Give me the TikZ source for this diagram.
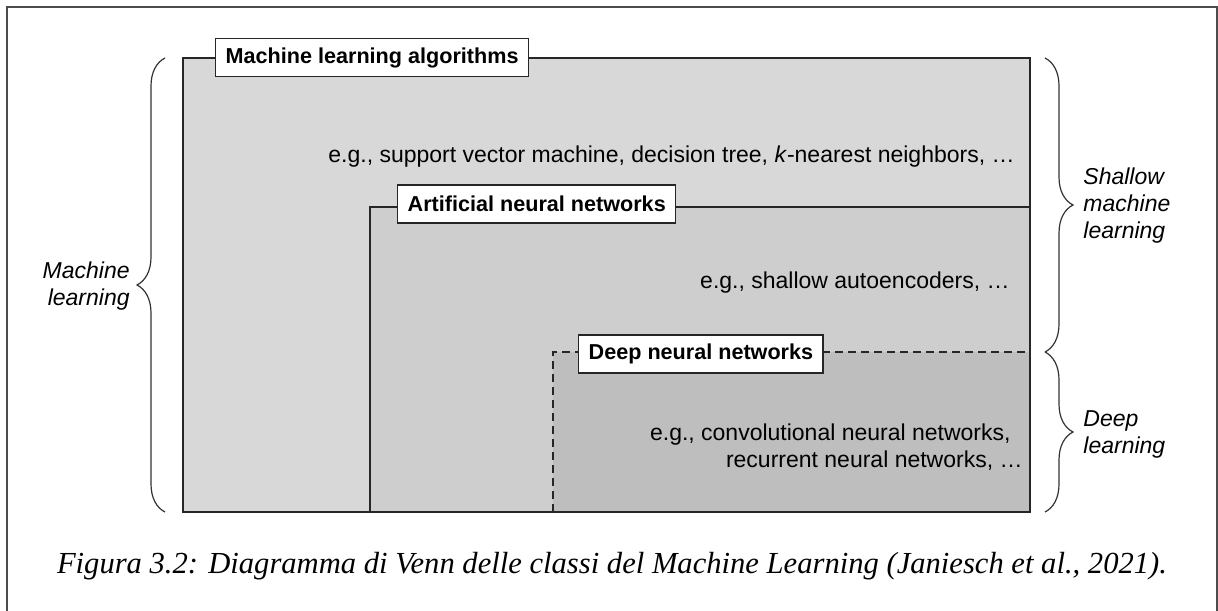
\documentclass[tikz,border=0pt]{standalone}
\usepackage{fontspec}
\setmainfont{Liberation Serif}
\setsansfont{Liberation Sans}
\usepackage{tikz}
\usetikzlibrary{decorations.pathreplacing}

\definecolor{mlgray}{RGB}{216,216,216}
\definecolor{anngray}{RGB}{206,206,206}
\definecolor{dnngray}{RGB}{190,190,190}

\begin{document}
\begin{tikzpicture}[
  x=0.5pt, y=-0.5pt,
  tag/.style={rectangle,draw=black!85,fill=white,line width=0.7pt,inner xsep=5pt,inner ysep=0pt,minimum height=19pt,anchor=west,font=\sffamily\bfseries\fontsize{10.8}{12}\selectfont},
  example/.style={align=right,anchor=east,inner sep=0pt,font=\sffamily\fontsize{11.5}{13.5}\selectfont},
  side/.style={inner sep=0pt,font=\sffamily\itshape\fontsize{11.5}{13.5}\selectfont},
  brace/.style={decorate,decoration={brace,amplitude=14pt},line width=0.6pt,draw=black!80},
  edge/.style={line width=0.7pt,draw=black!85}
]
  \useasboundingbox (0,0) rectangle (1218,610);
  \draw[black!70,line width=0.7pt] (7,612) -- (7,7) -- (1217,7) -- (1217,612);

  % nested areas
  \coordinate (mlnw) at (183,58);
  \coordinate (annnw) at (370,207);
  \coordinate (dnnnw) at (553,352);
  \coordinate (se) at (1030,512);

  \fill[mlgray] (mlnw) rectangle (se);
  \fill[anngray] (annnw) rectangle (se);
  \fill[dnngray] (dnnnw) rectangle (se);
  \draw[edge] (mlnw) rectangle (se);
  \draw[edge] (annnw |- se) -- (annnw) -- (se |- annnw);
  \draw[edge,dashed,dash pattern=on 4pt off 2.5pt] (dnnnw |- se) -- (dnnnw) -- (se |- dnnnw);

  \node[tag] (mlalg) at (215,57.5) {Machine learning algorithms};
  \node[tag] (ann) at (397,204) {Artificial neural networks};
  \node[tag] (dnn) at (578,354) {Deep neural networks};

  \node[example] (mlex) at (1015,157) {e.g., support vector machine, decision tree, \textit{k}-nearest neighbors, …};
  \node[example] (annex) at (1010,283) {e.g., shallow autoencoders, …};
  \node[example] (dnnex) at (1023,447) {e.g., convolutional neural networks,\hspace*{6pt}\\recurrent neural networks, …};

  % braces
  \draw[brace] (165,512) -- (165,58) node[midway] (mlmid) {};
  \draw[brace] (1045,58) -- (1045,352) node[midway] (shmid) {};
  \draw[brace] (1045,352) -- (1045,512) node[midway] (dpmid) {};

  \node[side,align=right,anchor=east] (mlside) at (130,286) {Machine\\learning};
  \node[side,align=left,anchor=west] (shallow) at (1083,206) {Shallow\\machine\\learning};
  \node[side,align=left,anchor=west] (deep) at (1083,434) {Deep\\learning};

  \node[font=\itshape\fontsize{15.3}{17}\selectfont] (caption) at (612,566) {Figura 3.2: Diagramma di Venn delle classi del Machine Learning (Janiesch et al., 2021).};
\end{tikzpicture}
\end{document}
